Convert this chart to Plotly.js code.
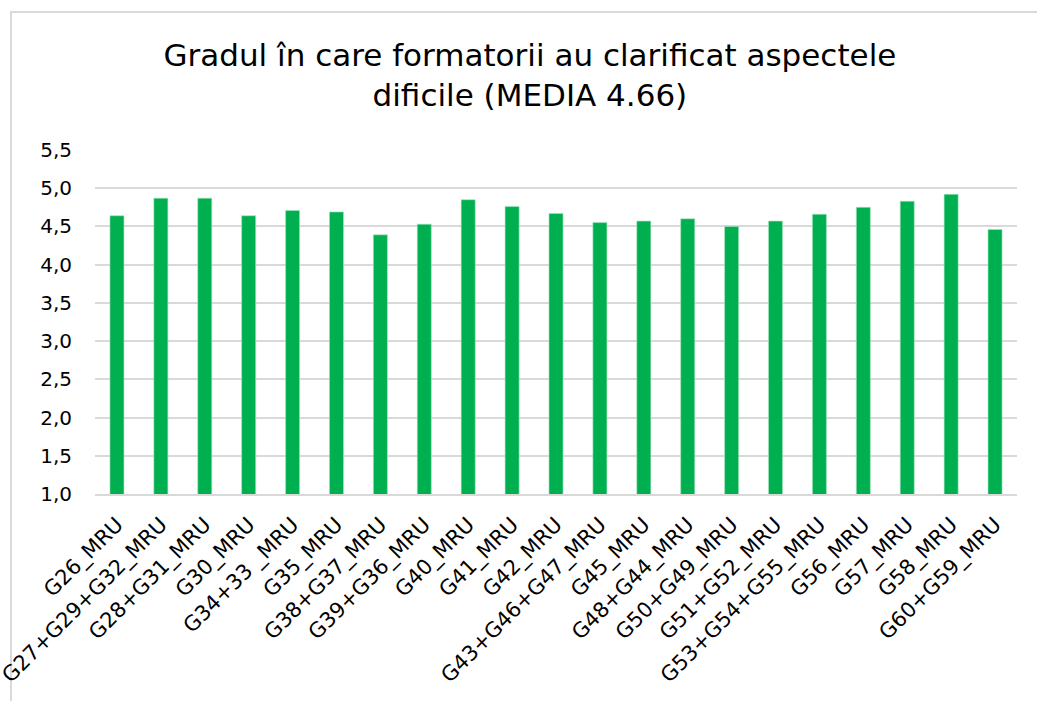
<!DOCTYPE html>
<html>
<head>
<meta charset="utf-8">
<script src="https://cdn.plot.ly/plotly-3.0.1.min.js"></script>
<style>
  html, body { margin: 0; padding: 0; background: #ffffff; }
  #wrap { position: relative; width: 1037px; height: 701px; overflow: hidden; }
  #frame { position: absolute; left: 10px; top: 11px; width: 1100px; height: 800px;
           border-left: 2px solid #d9d9d9; border-top: 2px solid #d9d9d9; box-sizing: border-box; }
  #chart { position: absolute; left: 0; top: 0; width: 1037px; height: 701px; }
</style>
</head>
<body>
<div id="wrap">
  <div id="frame"></div>
  <div id="chart"></div>
</div>
<script>
const categories = [
  "G26_MRU", "G27+G29+G32_MRU", "G28+G31_MRU", "G30_MRU", "G34+33 _MRU",
  "G35_MRU", "G38+G37_MRU", "G39+G36_MRU", "G40_MRU", "G41_MRU",
  "G42_MRU", "G43+G46+G47_MRU", "G45_MRU", "G48+G44_MRU", "G50+G49_MRU",
  "G51+G52_MRU", "G53+G54+G55_MRU", "G56_MRU", "G57_MRU", "G58_MRU",
  "G60+G59_MRU"
];
const values = [
  4.64, 4.87, 4.87, 4.64, 4.71,
  4.69, 4.39, 4.53, 4.85, 4.76,
  4.67, 4.55, 4.57, 4.60, 4.50,
  4.57, 4.66, 4.75, 4.83, 4.92,
  4.46
];
const titleText = "Gradul în care formatorii au clarificat aspectele<br>dificile (MEDIA 4.66)";

const FONT = '"DejaVu Sans", Tahoma, sans-serif';

const trace = {
  type: 'bar',
  x: categories,
  y: values,
  marker: { color: '#00b050', line: { color: '#a8e6c0', width: 0.6 } },
  hoverinfo: 'x+y'
};

const layout = {
  width: 1037,
  height: 701,
  paper_bgcolor: 'rgba(0,0,0,0)',
  plot_bgcolor: 'rgba(0,0,0,0)',
  separators: ',.',
  margin: { l: 95, r: 20, t: 150, b: 207, pad: 0 },
  bargap: 0.68,
  showlegend: false,
  font: { family: FONT, color: '#000000' },
  title: {
    text: titleText,
    font: { family: FONT, size: 31, color: '#000000' },
    x: 0.511, xref: 'container', xanchor: 'center',
    y: 0.906, yref: 'container', yanchor: 'top'
  },
  xaxis: {
    type: 'category',
    tickangle: -45,
    tickfont: { family: FONT, size: 21, color: '#000000' },
    showgrid: false,
    showline: true,
    linecolor: '#d9d9d9',
    linewidth: 2,
    ticks: '',
    ticklabelstandoff: 8,
    automargin: false
  },
  yaxis: {
    range: [1.0, 5.5],
    dtick: 0.5,
    tick0: 1.0,
    tickformat: '.1f',
    tickfont: { family: FONT, size: 20, color: '#000000' },
    showgrid: true,
    gridcolor: '#d9d9d9',
    gridwidth: 2,
    zeroline: false,
    showline: false,
    ticks: '',
    ticklabelstandoff: 22,
    automargin: false
  }
};

Plotly.newPlot('chart', [trace], layout, { displayModeBar: false, staticPlot: true });
</script>
</body>
</html>
